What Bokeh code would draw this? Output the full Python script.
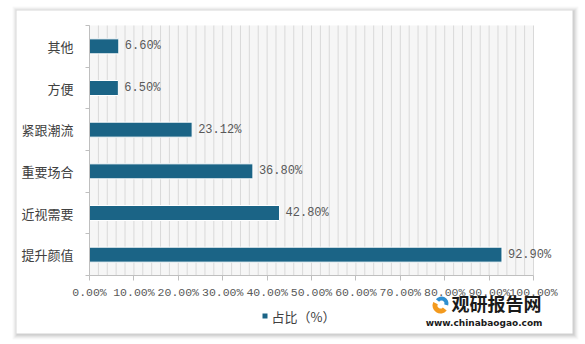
from bokeh.plotting import figure
from bokeh.models import ColumnDataSource, FixedTicker, LabelSet, Label, BoxAnnotation
from bokeh.core.properties import value
from bokeh.embed import file_html
from bokeh.resources import INLINE

categories = ["提升颜值", "近视需要", "重要场合", "紧跟潮流", "方便", "其他"]
values = [92.90, 42.80, 36.80, 23.12, 6.50, 6.60]
x_ticks = [0, 10, 20, 30, 40, 50, 60, 70, 80, 90, 100]
x_tick_labels = ["0.00%", "10.00%", "20.00%", "30.00%", "40.00%", "50.00%",
                 "60.00%", "70.00%", "80.00%", "90.00%", "100.00%"]
grid_step = 2
series_name = "占比（%）"

W, H = 585, 344
FL, FR, FT, FB = 89, 533, 25, 275  # plot-area edges in page pixels
XMAX = 100
N = len(categories)
BAR = "#1b6486"
TXT = "#595959"
NUM_FONT = "Liberation Mono"
CJK = "Noto Sans CJK SC"

# ranges chosen so that the whole canvas is the frame and 0..100 / 0..N fill the plot area
kx = XMAX / (FR - FL)
ky = N / (FB - FT)
x_range = (-FL * kx, (W - FL) * kx)
y_range = (-(H - FB) * ky, N + FT * ky)


def sy(py):
    return H - py


def dx(px):
    return (px - FL) * kx


def dy(py):
    return (FB - py) * ky


pos = [i + 0.5 for i in range(N)]
src = ColumnDataSource(dict(y=pos, v=values, cat=categories,
                            lab=[f"{v:.2f}%" for v in values]))

p = figure(width=W, height=H, x_range=x_range, y_range=y_range,
           output_backend="svg", toolbar_location=None,
           min_border=0, min_border_left=0, min_border_right=0,
           min_border_top=0, min_border_bottom=0)
p.border_fill_color = "white"
p.background_fill_color = "white"
p.outline_line_color = None


def sbox(l, r, t, b, **kw):
    return BoxAnnotation(left=l, right=r, top=sy(t), bottom=sy(b),
                         left_units="screen", right_units="screen",
                         top_units="screen", bottom_units="screen",
                         line_color=None, level="image", **kw)


# panel with soft shadow
for d, a in [(5, 0.04), (4, 0.05), (3, 0.07), (2, 0.09), (1, 0.12)]:
    p.add_layout(sbox(16 - d + 1, 572 + d + 1, 10 - d + 1, 333 + d + 1, fill_color="#707070", fill_alpha=a))
p.add_layout(sbox(16, 572, 10, 333, fill_color="white", fill_alpha=1))
p.add_layout(BoxAnnotation(left=0, right=XMAX, bottom=0, top=N,
                           fill_color="#f6f6f6", fill_alpha=1, line_color=None, level="image"))

# vertical grid lines every 2 %
gx = list(range(0, XMAX + 1, grid_step))
grid = p.segment(x0=gx, x1=gx, y0=[0] * len(gx), y1=[N] * len(gx),
                 line_color="#d9d9d9", line_width=1)
grid.level = "underlay"
p.xgrid.visible = False
p.ygrid.visible = False

r = p.hbar(y="y", right="v", height=0.36, source=src, fill_color=BAR,
           line_color="white", line_width=1)

# x axis
p.xaxis.fixed_location = 0
p.xaxis.bounds = (0, XMAX)
p.xaxis.ticker = FixedTicker(ticks=x_ticks)
p.xaxis.major_label_overrides = {t: l for t, l in zip(x_ticks, x_tick_labels)}
p.xaxis.axis_line_color = "#bfbfbf"
p.xaxis.major_tick_line_color = "#bfbfbf"
p.xaxis.major_tick_out = 5
p.xaxis.major_tick_in = 0
p.xaxis.minor_tick_line_color = None
p.xaxis.major_label_text_font = NUM_FONT
p.xaxis.major_label_text_font_size = "11.5px"
p.xaxis.major_label_text_color = TXT
p.xaxis.major_label_standoff = 5

# y axis
p.yaxis.fixed_location = 0
p.yaxis.bounds = (0, N)
p.yaxis.ticker = FixedTicker(ticks=pos, minor_ticks=list(range(0, N + 1)))
p.yaxis.major_label_overrides = {y: c for y, c in zip(pos, categories)}
p.yaxis.axis_line_color = "#bfbfbf"
p.yaxis.major_tick_line_color = None
p.yaxis.minor_tick_line_color = "#bfbfbf"
p.yaxis.minor_tick_out = 4
p.yaxis.minor_tick_in = 0
p.yaxis.major_label_text_font = CJK
p.yaxis.major_label_text_font_size = "13px"
p.yaxis.major_label_text_color = "#404040"
p.yaxis.major_label_standoff = 10

labels = LabelSet(x="v", y="y", text="lab", source=src, x_offset=6,
                  text_baseline="middle", text_align="left",
                  text_font=value(NUM_FONT), text_font_size=value("12px"), text_color=TXT)
p.add_layout(labels)

# legend (manual)
p.add_layout(BoxAnnotation(left=262, right=267, top=sy(313), bottom=sy(318),
                           left_units="screen", right_units="screen",
                           top_units="screen", bottom_units="screen",
                           fill_color=BAR, fill_alpha=1, line_color=None))
p.add_layout(Label(x=271, y=sy(316), x_units="screen", y_units="screen", text=series_name,
                   text_font=CJK, text_font_size="13px", text_color="#404040",
                   text_align="left", text_baseline="middle"))

# watermark
p.annular_wedge(x=[dx(440)], y=[dy(305)], inner_radius=3, outer_radius=8,
                inner_radius_units="screen", outer_radius_units="screen",
                start_angle=2.7, end_angle=5.6, fill_color="#f39a1e", line_color=None)
p.annular_wedge(x=[dx(441)], y=[dy(303)], inner_radius=3, outer_radius=7,
                inner_radius_units="screen", outer_radius_units="screen",
                start_angle=-0.3, end_angle=2.5, fill_color="#2e8fd0", line_color=None)
p.add_layout(Label(x=541, y=sy(302), x_units="screen", y_units="screen", text="观研报告网",
                   text_font=CJK, text_font_size="18px", text_font_style="bold",
                   text_color="#1a1a1a", text_align="right", text_baseline="middle"))
p.add_layout(Label(x=542, y=sy(322), x_units="screen", y_units="screen", text="www.chinabaogao.com",
                   text_font="DejaVu Sans", text_font_size="9px", text_font_style="bold",
                   text_color="#1a1a1a", text_align="right", text_baseline="middle"))

open("out.html", "w").write(file_html(p, INLINE))
